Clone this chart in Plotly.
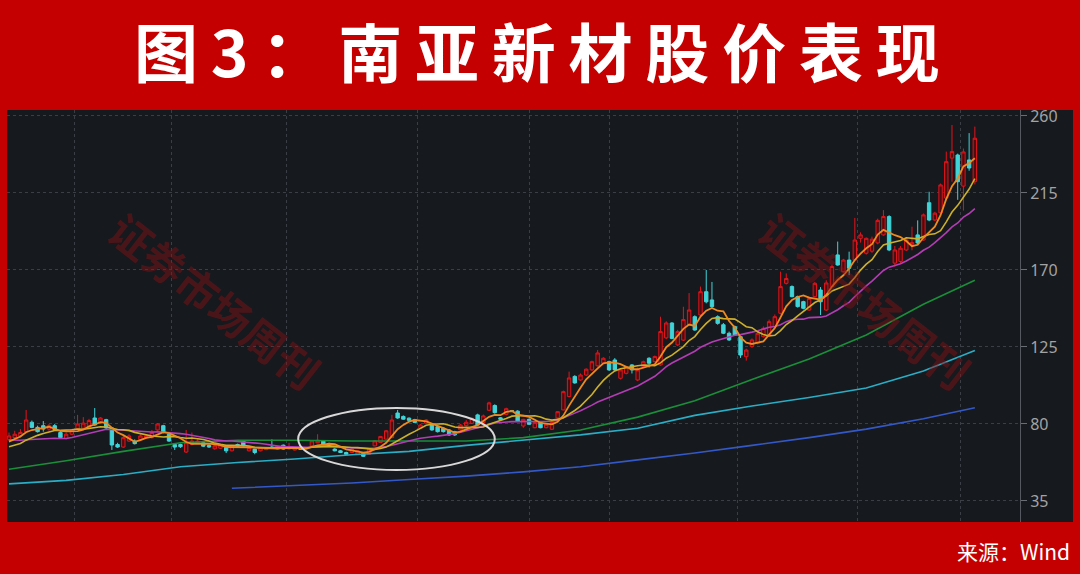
import plotly.graph_objects as go
import pandas as pd

# ---------------- data ----------------
open_ = [71.0, 72.0, 73.0, 75.5, 81.0, 78.0, 79.0, 77.0, 79.0, 75.0,
         71.5, 74.0, 77.0, 77.5, 78.0, 83.5, 80.6, 82.5, 77.7, 68.0,
         66.5, 70.0, 70.0, 71.0, 72.0, 72.0, 76.5, 79.0, 74.0, 68.0,
         68.0, 63.6, 68.0, 69.0, 69.0, 67.5, 65.5, 65.8, 66.2, 64.3,
         68.0, 70.1, 64.3, 65.3, 64.3, 65.0, 66.5, 65.3, 67.6, 65.5,
         64.8, 65.8, 65.2, 67.2, 69.0, 70.0, 68.5, 65.3, 64.3, 63.3,
         63.3, 62.3, 62.7, 62.3, 67.2, 69.2, 71.1, 72.0, 86.4, 84.4,
         83.4, 82.5, 77.5, 80.4, 79.4, 78.4, 77.5, 76.5, 75.5, 76.5,
         79.0, 80.4, 85.3, 80.8, 88.0, 90.8, 83.6, 85.6, 87.8, 87.5,
         78.8, 82.7, 77.8, 80.8, 77.8, 76.9, 83.5, 88.2, 96.0, 107.8,
         105.7, 108.6, 111.6, 114.0, 115.5, 116.4, 117.4, 106.7, 109.6, 114.5,
         105.7, 113.5, 118.4, 116.4, 114.5, 130.3, 139.0, 126.2, 129.0, 137.9,
         142.7, 143.7, 157.3, 152.5, 142.7, 138.0, 133.0, 136.9, 131.0, 119.3,
         125.2, 127.2, 131.0, 132.0, 136.9, 144.7, 162.2, 160.3, 154.4, 151.5,
         146.6, 154.4, 158.3, 146.6, 160.3, 178.8, 169.0, 175.8, 175.8, 188.5,
         179.8, 181.0, 185.8, 190.5, 201.2, 174.0, 175.0, 181.7, 185.0, 190.5,
         187.5, 209.3, 199.2, 203.4, 212.0, 235.4, 237.2, 219.0, 234.3, 221.6]
high = [75.0, 76.0, 77.0, 88.2, 82.0, 79.0, 81.7, 80.0, 80.0, 76.0,
        75.0, 77.0, 85.3, 84.0, 83.0, 89.3, 84.0, 83.0, 78.0, 69.0,
        73.0, 74.0, 71.0, 74.0, 74.0, 76.5, 80.5, 79.5, 74.5, 68.5,
        68.5, 76.5, 75.0, 71.0, 69.5, 68.0, 68.7, 68.5, 66.5, 67.5,
        68.5, 70.5, 66.5, 65.5, 66.5, 66.0, 71.0, 67.5, 68.0, 69.0,
        66.0, 66.2, 66.0, 70.5, 74.0, 70.5, 69.0, 65.8, 64.8, 63.8,
        65.8, 64.5, 63.0, 65.5, 70.5, 73.0, 76.5, 85.3, 88.2, 85.0,
        83.8, 83.0, 80.0, 82.8, 80.0, 78.8, 78.0, 77.0, 76.0, 80.0,
        82.3, 83.8, 86.0, 85.5, 93.0, 91.5, 84.0, 89.5, 88.2, 88.0,
        83.0, 83.2, 81.2, 81.2, 80.2, 81.2, 87.5, 99.5, 110.6, 108.5,
        109.5, 112.5, 117.0, 123.2, 119.0, 117.0, 118.5, 112.0, 114.0, 115.0,
        113.0, 117.0, 119.0, 120.0, 142.7, 140.0, 139.5, 135.0, 148.5, 156.5,
        143.5, 160.3, 170.0, 163.0, 143.5, 139.0, 134.0, 137.5, 131.5, 124.0,
        130.0, 134.0, 137.0, 141.0, 144.0, 169.0, 168.0, 161.0, 155.0, 152.0,
        154.5, 163.0, 160.0, 164.0, 173.0, 186.6, 176.5, 180.7, 200.4, 192.0,
        189.0, 189.5, 200.0, 205.0, 202.0, 184.0, 184.0, 189.0, 195.3, 199.0,
        203.0, 215.7, 204.0, 220.5, 239.2, 254.7, 238.0, 241.0, 250.0, 253.8]
low = [70.0, 71.0, 72.0, 75.0, 77.5, 75.0, 75.5, 76.0, 76.0, 71.5,
       71.0, 73.5, 76.5, 77.0, 77.5, 79.0, 80.0, 77.0, 64.8, 66.0,
       66.0, 69.5, 68.0, 70.5, 71.5, 71.5, 76.0, 74.5, 69.5, 64.8,
       66.0, 63.0, 67.5, 68.5, 66.5, 66.0, 65.0, 65.5, 63.0, 64.0,
       66.5, 66.8, 64.0, 62.3, 64.0, 64.7, 65.5, 65.0, 65.0, 65.0,
       64.5, 64.8, 65.0, 67.0, 68.8, 67.8, 67.5, 64.0, 63.0, 62.0,
       63.0, 62.0, 60.7, 62.0, 67.0, 69.0, 71.0, 71.8, 83.0, 82.5,
       81.8, 80.5, 77.0, 80.0, 76.0, 75.0, 75.0, 73.0, 73.0, 76.0,
       78.4, 80.0, 79.0, 80.5, 87.5, 86.0, 82.5, 85.0, 87.0, 81.5,
       77.8, 79.5, 77.5, 77.5, 77.5, 76.5, 83.0, 88.0, 95.5, 103.5,
       105.2, 108.0, 111.0, 113.5, 115.0, 111.0, 111.0, 106.0, 109.0, 109.5,
       105.0, 113.0, 113.0, 116.0, 114.0, 129.5, 129.5, 125.5, 128.5, 137.5,
       134.5, 143.0, 150.5, 148.0, 138.0, 132.5, 128.5, 131.5, 118.6, 117.0,
       124.5, 126.5, 130.5, 131.5, 136.5, 144.0, 161.5, 154.0, 148.0, 147.0,
       146.0, 154.0, 143.7, 146.0, 160.0, 172.5, 168.5, 167.0, 175.5, 186.0,
       179.0, 180.0, 185.0, 190.0, 181.0, 172.0, 174.0, 181.0, 181.5, 185.0,
       187.0, 198.5, 198.5, 203.0, 211.5, 221.6, 211.0, 204.7, 228.0, 220.0]
close = [73.0, 74.0, 75.0, 82.3, 78.0, 75.5, 77.0, 79.0, 76.5, 72.0,
         74.0, 76.5, 80.0, 80.5, 82.0, 79.4, 83.5, 77.7, 67.7, 66.5,
         72.0, 73.0, 68.5, 73.0, 73.0, 75.0, 80.0, 75.0, 70.0, 66.5,
         66.7, 69.0, 70.0, 70.0, 67.0, 66.5, 67.2, 67.7, 64.3, 67.2,
         67.0, 67.2, 66.2, 63.3, 66.2, 65.6, 66.0, 67.2, 65.3, 66.5,
         65.6, 65.2, 65.8, 70.1, 70.5, 68.0, 67.8, 64.3, 63.3, 62.3,
         65.3, 64.3, 61.1, 65.3, 70.1, 72.7, 76.0, 82.3, 83.5, 82.8,
         82.1, 80.9, 79.4, 82.3, 76.5, 75.5, 75.5, 73.6, 73.6, 79.4,
         81.0, 83.3, 79.4, 84.7, 92.3, 86.6, 82.7, 88.9, 87.4, 81.7,
         82.7, 79.8, 80.8, 77.8, 79.8, 80.8, 87.2, 98.9, 106.9, 104.0,
         108.6, 112.0, 116.4, 121.5, 118.4, 111.6, 111.6, 111.6, 113.5, 111.6,
         111.6, 116.4, 115.5, 119.4, 134.0, 139.0, 130.0, 134.0, 141.0, 146.6,
         134.9, 157.3, 151.4, 148.6, 138.8, 133.0, 129.1, 132.0, 120.3, 123.2,
         129.1, 133.0, 135.9, 139.8, 142.7, 160.3, 165.0, 154.4, 148.6, 147.6,
         153.4, 162.2, 151.4, 162.4, 172.0, 172.9, 175.8, 171.0, 187.5, 190.5,
         188.5, 188.0, 199.0, 201.2, 181.7, 181.7, 182.7, 187.5, 186.0, 185.8,
         202.2, 199.2, 203.2, 219.7, 233.3, 239.2, 221.6, 239.0, 229.6, 247.0]
# closes before the visible window (only used to warm up the short averages)
pre_close = [76, 75, 77, 74, 73, 75, 74, 73, 74, 74,
             66, 64, 63, 62, 63.5, 66, 68, 70, 71.5]

ma_idx = [0, 10, 20, 30, 40, 50, 60, 70, 80, 90, 100, 110, 120, 130, 140, 150, 160, 169]
ma60 = [53.5, 58.5, 64.0, 69.0, 70.5, 70.5, 70.0, 69.8, 70.0, 72.0,
        76.5, 84.0, 93.5, 106.0, 118.0, 132.0, 150.0, 164.0]
ma120 = [45.0, 47.0, 50.5, 55.0, 57.5, 59.5, 62.0, 64.0, 67.5, 70.5,
         73.6, 77.5, 85.0, 90.5, 95.5, 101.0, 111.0, 123.0]
ma250_idx = [39, 50, 60, 70, 80, 90, 100, 110, 120, 130, 140, 150, 160, 169]
ma250 = [42.4, 43.9, 45.5, 47.5, 49.5, 52.0, 55.0, 59.0, 63.0, 67.5, 72.0, 77.0, 83.0, 89.5]

y_ticks = [35, 80, 125, 170, 215, 260]
month_breaks = [11.5, 28.5, 48.5, 71.5, 91, 105, 127.5, 148.5, 166.5]
highlight = dict(x0=50.6, x1=85.0, y0=53.1, y1=89.4)

title_chars = ["图", "3", "：", "南", "亚", "新", "材", "股", "价", "表", "现"]
source_text = "来源：Wind"
watermark = "证券市场周刊"

# ---------------- derived ----------------
N = len(close)
x = list(range(N))
s = pd.Series(pre_close + close)
k0 = len(pre_close)
ma5 = s.rolling(5).mean().iloc[k0:].tolist()
ma10 = s.rolling(10).mean().iloc[k0:].tolist()
ma20 = s.rolling(20).mean().iloc[k0:].tolist()

BG = "#16191d"
RED = "#c50000"

fig = go.Figure()
fig.add_trace(go.Candlestick(
    x=x, open=open_, high=high, low=low, close=close,
    increasing=dict(line=dict(color="#e3141c", width=1), fillcolor="#4a0d10"),
    decreasing=dict(line=dict(color="#40d4d8", width=1), fillcolor="#40d4d8"),
    whiskerwidth=0, showlegend=False, hoverinfo="skip"))

def line(xs, ys, color, w=1.6):
    fig.add_trace(go.Scatter(x=xs, y=ys, mode="lines",
                             line=dict(color=color, width=w),
                             showlegend=False, hoverinfo="skip"))

line(ma_idx, ma60, "#1a8f3a")
line(ma_idx, ma120, "#2aaec6")
line(ma250_idx, ma250, "#3558c8")
line(x, ma20, "#b43cb4")
line(x, ma10, "#cdb02a")
line(x, ma5, "#ee8a1e", 1.8)

title_text = "\u2009".join(title_chars)
wm_font = dict(family="Noto Sans CJK SC", size=42, color="rgba(140,16,22,0.45)")

fig.update_layout(
    width=1080, height=574,
    margin=dict(l=7, r=60, t=110, b=52),
    paper_bgcolor=RED, plot_bgcolor=BG,
    boxgap=0.15,
    xaxis=dict(range=[-0.35, 176.9], tickvals=month_breaks, showticklabels=False,
               showgrid=True, gridcolor="#3b3f45", griddash="dot", gridwidth=1,
               zeroline=False, rangeslider=dict(visible=False), fixedrange=True),
    yaxis=dict(side="right", range=[22.7, 263.5], tickvals=y_ticks,
               showgrid=True, gridcolor="#3b3f45", griddash="dot", gridwidth=1,
               zeroline=False, showline=True, linecolor="#55595f", linewidth=1,
               ticks="outside", ticklen=6, tickcolor="#6a6e74",
               tickfont=dict(family="Noto Sans, DejaVu Sans", size=16, color="#a3a3a3")),
    shapes=[
        dict(type="rect", xref="paper", yref="paper", x0=0, x1=1.0523, y0=0, y1=1,
             fillcolor=BG, line=dict(width=0), layer="below"),
        dict(type="circle", xref="x", yref="y", line=dict(color="#d8d8d8", width=2),
             **highlight),
    ],
    annotations=[
        dict(text="<b>" + title_text + "</b>", xref="paper", yref="paper",
             x=0.523, y=1.148, xanchor="center", yanchor="middle", showarrow=False,
             font=dict(family="Noto Sans CJK SC", size=64, color="white")),
        dict(text=source_text, xref="paper", yref="paper", x=1.0513, y=-0.0704,
             xanchor="right", yanchor="middle", showarrow=False,
             font=dict(family="Noto Sans CJK SC", size=21, color="white")),
        dict(text="<b>" + watermark + "</b>", xref="paper", yref="paper",
             x=0.205, y=0.539, xanchor="center", yanchor="middle",
             showarrow=False, textangle=38, font=wm_font),
        dict(text="<b>" + watermark + "</b>", xref="paper", yref="paper",
             x=0.847, y=0.539, xanchor="center", yanchor="middle",
             showarrow=False, textangle=38, font=wm_font),
    ],
)

fig.write_html("out.html", config={"displayModeBar": False},
               post_script="document.body.style.margin='0';")
